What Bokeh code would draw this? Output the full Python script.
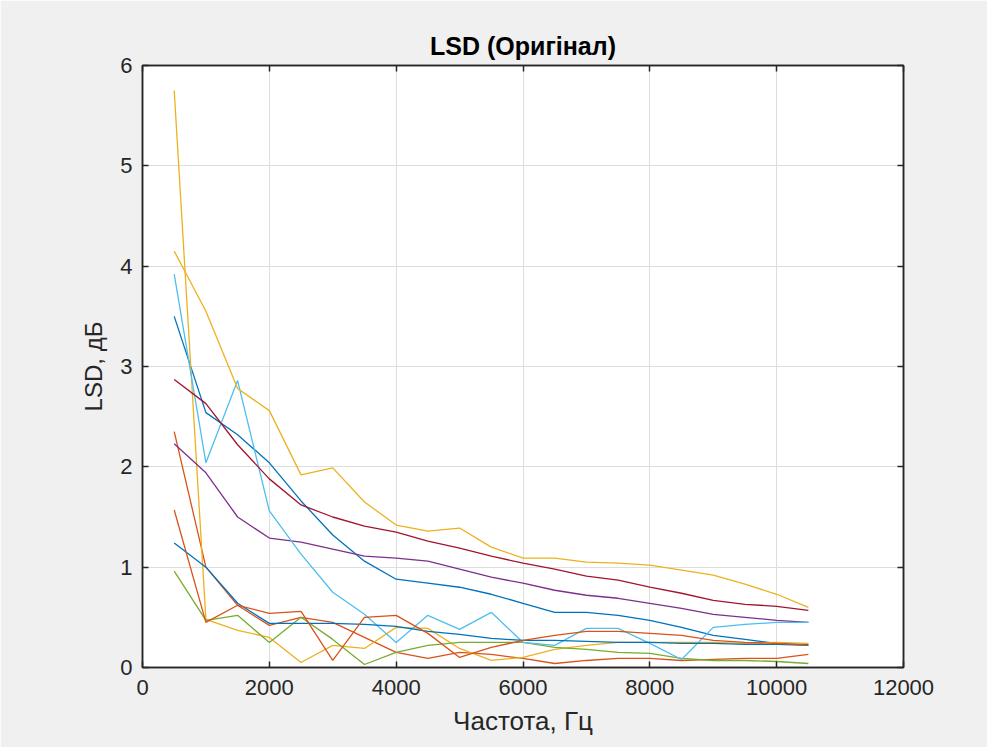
from bokeh.plotting import figure
from bokeh.models import LinearAxis, Range1d, FixedTicker
from bokeh.embed import file_html
from bokeh.resources import INLINE

freq = [500, 1000, 1500, 2000, 2500, 3000, 3500, 4000, 4500, 5000, 5500,
        6000, 6500, 7000, 7500, 8000, 8500, 9000, 9500, 10000, 10500]

blue_a = [3.50, 2.54, 2.32, 2.04, 1.66, 1.32, 1.06, 0.88, 0.84, 0.80, 0.73,
          0.64, 0.55, 0.55, 0.52, 0.47, 0.40, 0.32, 0.28, 0.24, 0.23]
orange_a = [2.35, 1.00, 0.62, 0.42, 0.50, 0.45, 0.30, 0.15, 0.09, 0.15, 0.13,
            0.09, 0.04, 0.07, 0.09, 0.09, 0.07, 0.08, 0.09, 0.09, 0.13]
yellow_a = [5.75, 0.48, 0.37, 0.30, 0.05, 0.22, 0.19, 0.40, 0.39, 0.19, 0.07,
            0.10, 0.18, 0.22, 0.25, 0.25, 0.25, 0.25, 0.24, 0.25, 0.24]
purple = [2.23, 1.94, 1.50, 1.29, 1.25, 1.18, 1.11, 1.09, 1.06, 0.98, 0.90,
          0.84, 0.77, 0.72, 0.69, 0.64, 0.59, 0.53, 0.50, 0.47, 0.45]
green = [0.96, 0.47, 0.52, 0.25, 0.50, 0.28, 0.03, 0.15, 0.22, 0.25, 0.25,
         0.25, 0.20, 0.18, 0.15, 0.14, 0.09, 0.07, 0.07, 0.06, 0.04]
light_blue = [3.92, 2.04, 2.86, 1.56, 1.13, 0.75, 0.53, 0.25, 0.52, 0.38, 0.55,
              0.25, 0.22, 0.39, 0.39, 0.24, 0.08, 0.40, 0.43, 0.45, 0.45]
dark_red = [2.87, 2.63, 2.22, 1.88, 1.62, 1.50, 1.41, 1.35, 1.26, 1.19, 1.11,
            1.04, 0.98, 0.91, 0.87, 0.80, 0.74, 0.67, 0.63, 0.61, 0.57]
blue_b = [1.24, 1.00, 0.64, 0.44, 0.44, 0.44, 0.43, 0.41, 0.36, 0.33, 0.29,
          0.27, 0.27, 0.26, 0.25, 0.25, 0.24, 0.24, 0.23, 0.23, 0.22]
orange_b = [1.57, 0.45, 0.62, 0.54, 0.56, 0.07, 0.50, 0.52, 0.34, 0.10, 0.20,
            0.27, 0.32, 0.36, 0.36, 0.34, 0.32, 0.27, 0.25, 0.24, 0.22]
yellow_b = [4.15, 3.55, 2.78, 2.56, 1.92, 1.99, 1.65, 1.42, 1.36, 1.39, 1.20,
            1.09, 1.09, 1.05, 1.04, 1.02, 0.97, 0.92, 0.83, 0.73, 0.60]

series = [blue_a, orange_a, yellow_a, purple, green, light_blue, dark_red,
          blue_b, orange_b, yellow_b]
colors = ["#0072BD", "#D95319", "#EDB120", "#7E2F8E", "#77AC30", "#4DBEEE",
          "#A2142F", "#0072BD", "#D95319", "#EDB120"]

x_ticks = [0, 2000, 4000, 6000, 8000, 10000, 12000]
y_ticks = [0, 1, 2, 3, 4, 5, 6]

title_text = "LSD (Оригінал)"
x_label = "Частота, Гц"
y_label = "LSD, дБ"

FONT = "Liberation Sans"
INK = "#262626"

p = figure(width=987, height=747, output_backend="svg", toolbar_location=None,
           x_range=Range1d(0, 12000), y_range=Range1d(0, 6),
           min_border_left=142, min_border_right=84, min_border_top=65,
           min_border_bottom=80, background_fill_color="white",
           border_fill_color="#f0f0f0", x_axis_location=None, y_axis_location=None)

p.title.text = title_text
p.title.align = "center"
p.title.text_font = FONT
p.title.text_font_size = "25px"
p.title.text_font_style = "bold"
p.title.text_color = "black"
p.title.standoff = 11

for ys, c in zip(series, colors):
    p.line(freq, ys, line_color=c, line_width=1.3)


def style_axis(ax, ticks, show_labels):
    ax.ticker = FixedTicker(ticks=ticks)
    ax.major_tick_in = 6
    ax.major_tick_out = 0
    ax.minor_tick_line_color = None
    ax.axis_line_color = INK
    ax.axis_line_width = 1.5
    ax.major_tick_line_color = INK
    ax.major_tick_line_width = 1.5
    ax.major_label_text_font = FONT
    ax.major_label_text_color = INK
    if show_labels:
        ax.major_label_text_font_size = "22px"
    else:
        ax.major_label_text_font_size = "1px"
        ax.major_label_text_color = None
        ax.major_label_standoff = 0


xb = LinearAxis(axis_label=x_label)
xt = LinearAxis()
yl = LinearAxis(axis_label=y_label)
yr = LinearAxis()
style_axis(xb, x_ticks, True)
style_axis(xt, x_ticks, False)
style_axis(yl, y_ticks, True)
style_axis(yr, y_ticks, False)
for ax in (xb, yl):
    ax.axis_label_text_font = FONT
    ax.axis_label_text_font_style = "normal"
    ax.axis_label_text_color = INK
xb.axis_label_text_font_size = "26px"
yl.axis_label_text_font_size = "24px"
xb.major_label_standoff = 12
xb.axis_label_standoff = 8
yl.major_label_standoff = 10
yl.axis_label_standoff = 10

p.add_layout(xb, "below")
p.add_layout(xt, "above")
p.add_layout(yl, "left")
p.add_layout(yr, "right")

p.xgrid.ticker = FixedTicker(ticks=x_ticks)
p.ygrid.ticker = FixedTicker(ticks=y_ticks)
p.grid.grid_line_color = "#dedede"
p.grid.grid_line_width = 1
p.outline_line_color = INK
p.outline_line_width = 1.5

open("out.html", "w").write(file_html(p, INLINE))
